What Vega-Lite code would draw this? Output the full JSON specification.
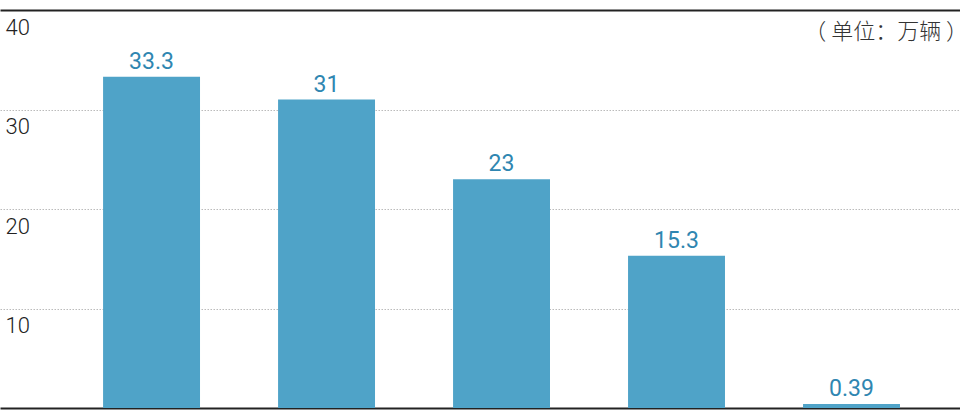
{
  "$schema": "https://vega.github.io/schema/vega-lite/v6.json",
  "width": 960,
  "height": 398,
  "autosize": {"type": "none"},
  "padding": {"top": 10, "bottom": 4, "left": 0, "right": 0},
  "background": "white",
  "config": {"view": {"stroke": null}},
  "title": {
    "text": "（ 单位：万辆 ）",
    "anchor": "end",
    "orient": "top",
    "offset": -56,
    "baseline": "bottom",
    "font": "Noto Sans CJK SC",
    "fontSize": 22,
    "fontWeight": 300,
    "color": "#333333",
    "dx": 8
  },
  "data": {
    "values": [
      {"category": "1", "value": 33.3},
      {"category": "2", "value": 31},
      {"category": "3", "value": 23},
      {"category": "4", "value": 15.3},
      {"category": "5", "value": 0.39}
    ]
  },
  "encoding": {
    "x": {
      "field": "category",
      "type": "nominal",
      "sort": null,
      "scale": {"paddingInner": 0.446, "paddingOuter": 0.466, "align": 0.632},
      "axis": {
        "title": null,
        "labels": false,
        "ticks": false,
        "domain": true,
        "domainColor": "#222222",
        "domainWidth": 2
      }
    },
    "y": {
      "field": "value",
      "type": "quantitative",
      "scale": {"domain": [0, 40], "nice": false},
      "axis": {
        "title": null,
        "values": [0, 10, 20, 30, 40],
        "domain": false,
        "ticks": false,
        "grid": true,
        "gridColor": {"condition": {"test": "datum.value === 40", "value": "#222222"}, "value": "#bbbbbb"},
        "gridDash": {"condition": {"test": "datum.value === 40", "value": []}, "value": [1.5, 1.5]},
        "gridWidth": {"condition": {"test": "datum.value === 40", "value": 2}, "value": 1},
        "gridOpacity": {"condition": {"test": "datum.value === 0", "value": 0}, "value": 1},
        "labelExpr": "datum.value === 0 ? '' : datum.label",
        "labelAlign": "left",
        "labelBaseline": "top",
        "labelPadding": -5,
        "labelOffset": 7,
        "labelFont": "Roboto",
        "labelFontWeight": 300,
        "labelFontSize": 22,
        "labelColor": "#222222"
      }
    }
  },
  "layer": [
    {"mark": {"type": "bar", "color": "#4fa3c8"}},
    {
      "mark": {
        "type": "text",
        "dy": -8,
        "baseline": "alphabetic",
        "font": "Roboto",
        "fontSize": 23,
        "color": "#2f86b1"
      },
      "encoding": {"text": {"field": "value", "type": "nominal"}}
    }
  ]
}
